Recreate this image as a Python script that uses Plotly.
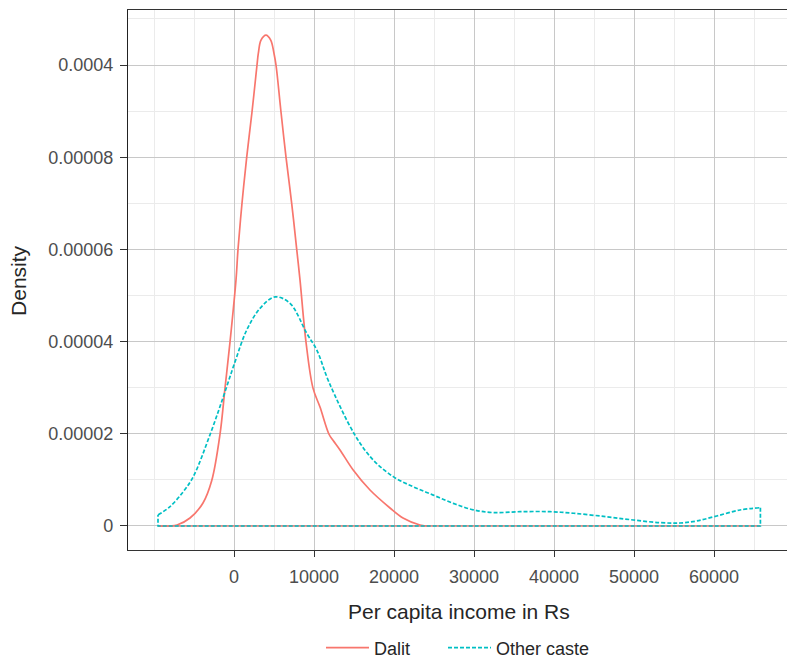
import plotly.graph_objects as go

# ---- data ----
x_ticks = [0, 10000, 20000, 30000, 40000, 50000, 60000]
x_tick_labels = ["0", "10000", "20000", "30000", "40000", "50000", "60000"]
y_ticks = [0, 0.00002, 0.00004, 0.00006, 0.00008, 0.0001]
y_tick_labels = ["0", "0.00002", "0.00004", "0.00006", "0.00008", "0.0004"]

dalit_x = [-9500, -7125, -5500, -3875, -2790, -1750, -1125, -500, 250, 500, 1000,
           1590, 2250, 2875, 3040, 3375, 4000, 4590, 5000, 5250, 5875, 6500, 7210,
           7840, 8250, 9000, 9875, 10750, 11875, 12375, 13250, 14875, 17000, 19500,
           21125, 23250, 24500]
dalit_y = [0, 2.2e-7, 1.73e-6, 4.99e-6, 9.8e-6, 1.99e-5, 2.99e-5, 3.99e-5,
           5.34e-5, 6.0e-5, 7.0e-5, 8.0e-5, 8.98e-5, 1.0e-4, 1.025e-4, 1.054e-4,
           1.065e-4, 1.054e-4, 1.025e-4, 1.0e-4, 8.98e-5, 8.0e-5, 7.0e-5, 6.0e-5,
           5.34e-5, 3.99e-5, 2.99e-5, 2.58e-5, 1.99e-5, 1.86e-5, 1.65e-5, 1.22e-5,
           7.8e-6, 3.9e-6, 1.73e-6, 2.2e-7, 0]

other_x = [-9500, -8000, -6340, -5090, -3000, -1340, 125, 1590, 3250, 5125, 7000,
           9090, 10340, 11875, 15125, 17410, 19910, 22410, 24910, 27410, 29910,
           32410, 35750, 39500, 42410, 46590, 49910, 53250, 55750, 57840, 60340,
           63250, 65800]
other_y = [2.39e-6, 4.2e-6, 7.44e-6, 1.07e-5, 1.98e-5, 2.8e-5, 3.56e-5, 4.25e-5,
           4.72e-5, 4.97e-5, 4.83e-5, 4.18e-5, 3.82e-5, 3.12e-5, 1.97e-5, 1.43e-5,
           1.07e-5, 8.5e-6, 6.7e-6, 4.9e-6, 3.5e-6, 2.9e-6, 3.1e-6, 3.1e-6, 2.76e-6,
           2.0e-6, 1.3e-6, 7.2e-7, 6.5e-7, 1.09e-6, 2.17e-6, 3.47e-6, 3.97e-6]

series_names = ["Dalit", "Other caste"]
RED = "#F8766D"
TEAL = "#00BFC4"
LW = 1.7

fig = go.Figure()

# Dalit: curve + closing baseline
fig.add_trace(go.Scatter(x=dalit_x, y=dalit_y, mode="lines", name=series_names[0],
                         legend="legend",
                         line=dict(color=RED, width=LW, shape="spline", smoothing=1.0)))
fig.add_trace(go.Scatter(x=[dalit_x[-1], other_x[-1], other_x[-1], dalit_x[0]],
                         y=[0, 0, 0, 0], mode="lines", showlegend=False,
                         hoverinfo="skip",
                         line=dict(color=RED, width=LW)))

# Other caste: curve + vertical edges and baseline
fig.add_trace(go.Scatter(x=other_x, y=other_y, mode="lines", name=series_names[1],
                         legend="legend2",
                         line=dict(color=TEAL, width=LW, dash="4px,2px",
                                   shape="spline", smoothing=1.0)))
fig.add_trace(go.Scatter(x=[other_x[-1], other_x[-1], other_x[0], other_x[0]],
                         y=[other_y[-1], 0, 0, other_y[0]], mode="lines",
                         showlegend=False, hoverinfo="skip",
                         line=dict(color=TEAL, width=LW, dash="4px,2px")))

FONT = "Liberation Sans, Arial, sans-serif"
legend_common = dict(orientation="h", xanchor="left", y=-0.1815, yanchor="middle",
                     font=dict(size=18, color="#262626"), itemwidth=43,
                     bgcolor="rgba(0,0,0,0)")

fig.update_layout(
    width=787, height=660,
    margin=dict(l=128, r=0, t=10, b=110, autoexpand=False),
    paper_bgcolor="white", plot_bgcolor="white",
    font=dict(family=FONT, color="#4d4d4d", size=18),
    showlegend=True,
    legend=dict(x=(321 - 128) / 659, **legend_common),
    legend2=dict(x=(443 - 128) / 659, **legend_common),
    xaxis=dict(
        range=[-13250, 69125], tickmode="array", tickvals=x_ticks,
        ticktext=x_tick_labels, showgrid=True, gridcolor="#c8c8c8", gridwidth=1.2,
        zeroline=False, showline=True, linecolor="#333333", linewidth=1.2,
        mirror=True, ticks="outside", ticklen=6, tickcolor="#333333",
        ticklabelstandoff=4,
        tickfont=dict(size=18, color="#4d4d4d"),
        minor=dict(tickmode="linear", tick0=0, dtick=5000, showgrid=True,
                   gridcolor="#ebebeb", gridwidth=1, ticks=""),
    ),
    yaxis=dict(
        range=[-5.21e-6, 1.1193e-4], tickmode="array", tickvals=y_ticks,
        ticktext=y_tick_labels, showgrid=True, gridcolor="#c8c8c8", gridwidth=1.2,
        zeroline=False, showline=True, linecolor="#222222", linewidth=1.2,
        ticks="outside", ticklen=7, tickcolor="#333333",
        ticklabelstandoff=3,
        tickfont=dict(size=18, color="#4d4d4d"),
        minor=dict(tickmode="linear", tick0=0, dtick=0.00001, showgrid=True,
                   gridcolor="#ebebeb", gridwidth=1, ticks=""),
    ),
    annotations=[
        dict(text="Per capita income in Rs", xref="paper", yref="paper",
             x=0.503, y=-0.113, xanchor="center", yanchor="middle",
             showarrow=False, font=dict(size=21, color="#262626")),
        dict(text="Density", xref="paper", yref="paper", x=-0.167, y=0.5,
             xanchor="center", yanchor="middle", textangle=-90,
             showarrow=False, font=dict(size=21, color="#262626")),
    ],
)

fig.write_html("out.html")
